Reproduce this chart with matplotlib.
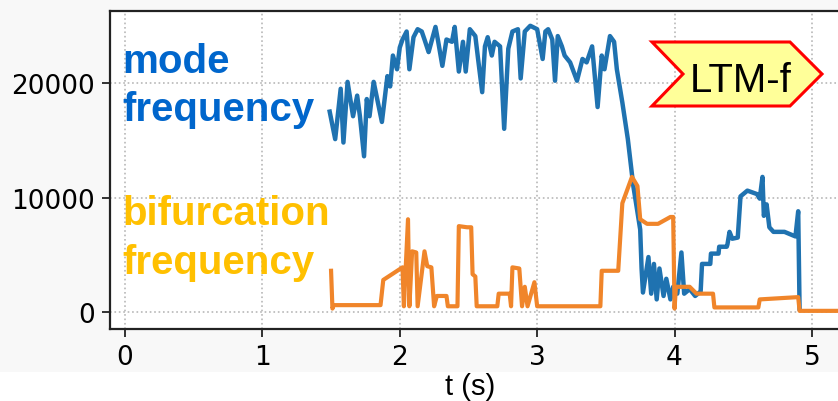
import matplotlib.pyplot as plt
from matplotlib.patches import Polygon

# mode frequency trace (Hz) vs time (s)
mode_t = [1.49, 1.53, 1.57, 1.59, 1.62, 1.66, 1.69, 1.71, 1.74, 1.76, 1.78, 1.81,
          1.87, 1.91, 1.93, 1.95, 1.98, 2.00, 2.02, 2.05, 2.07, 2.10, 2.13, 2.16,
          2.18, 2.21, 2.26, 2.28, 2.31, 2.34, 2.38, 2.40, 2.43, 2.46, 2.48, 2.51,
          2.55, 2.57, 2.60, 2.62, 2.64, 2.67, 2.69, 2.73, 2.76, 2.79, 2.82, 2.86,
          2.88, 2.91, 2.95, 3.00, 3.04, 3.06, 3.08, 3.11, 3.13, 3.15, 3.18, 3.20,
          3.24, 3.29, 3.33, 3.36, 3.40, 3.44, 3.47, 3.49, 3.53, 3.56, 3.58, 3.62,
          3.66, 3.70, 3.75, 3.76, 3.77, 3.81, 3.83, 3.85, 3.87, 3.89, 3.92, 3.94,
          3.97, 3.99, 4.02, 4.05, 4.07, 4.11, 4.15, 4.19, 4.20, 4.26, 4.265, 4.32,
          4.325, 4.38, 4.385, 4.40, 4.42, 4.46, 4.48, 4.53, 4.60, 4.62, 4.64, 4.65,
          4.67, 4.69, 4.72, 4.80, 4.88, 4.90, 4.91]
mode_f = [17500, 15100, 19500, 14800, 20100, 17100, 18900, 17100, 13600, 18600, 17100, 20100,
          16600, 20600, 19700, 22400, 21200, 23100, 23800, 24500, 21200, 24000, 24700, 24500,
          23800, 22700, 24900, 23600, 21500, 23800, 23600, 24900, 21000, 23600, 21000, 24700,
          24100, 22100, 19200, 23200, 24000, 22400, 23600, 23200, 16000, 23000, 24500, 24700,
          20400, 24500, 25000, 24700, 22100, 24500, 24700, 23800, 20200, 24100, 23200, 22400,
          21800, 20200, 22100, 21800, 23200, 17900, 22400, 21200, 24100, 23600, 21200, 18300,
          15100, 11000, 7200, 3800, 1700, 4800, 1600, 4200, 1100, 3800, 1400, 2900,
          1100, 2200, 1600, 5200, 1600, 2000, 1400, 1800, 4200, 4200, 5100, 5100,
          5700, 5700, 5900, 7000, 6400, 6500, 10100, 10600, 10300, 9900, 11800, 8400,
          9400, 7400, 7000, 7000, 6600, 8800, 300]

# bifurcation frequency trace (Hz) vs time (s)
bif_t = [1.50, 1.51, 1.52, 1.86, 1.88, 2.02, 2.03, 2.06, 2.07, 2.09, 2.12, 2.13,
         2.18, 2.20, 2.23, 2.25, 2.27, 2.34, 2.35, 2.42, 2.43, 2.49, 2.52, 2.53,
         2.55, 2.56, 2.71, 2.72, 2.80, 2.81, 2.82, 2.87, 2.89, 2.91, 2.93, 2.98,
         3.00, 3.46, 3.47, 3.59, 3.62, 3.69, 3.73, 3.75, 3.80, 3.88, 3.97, 3.99,
         4.00, 4.01, 4.11, 4.16, 4.28, 4.29, 4.61, 4.62, 4.90, 4.91, 5.30]
bif_f = [3600, 300, 600, 600, 2800, 3900, 500, 8100, 500, 5300, 5200, 500,
         5300, 4000, 3900, 500, 1400, 1400, 500, 500, 7500, 7400, 7400, 3300,
         3100, 500, 500, 1600, 1600, 500, 3900, 3800, 500, 2200, 500, 2600,
         500, 500, 3600, 3600, 9500, 11800, 11000, 8100, 7700, 7700, 8300, 8300,
         300, 2200, 2200, 1600, 1600, 400, 400, 1100, 1300, 100, 100]

x_ticks = [0, 1, 2, 3, 4, 5]
y_ticks = [0, 10000, 20000]

W, H = 838, 402
fig = plt.figure(figsize=(W / 100, H / 100), dpi=100)
fig.patch.set_facecolor('white')
# light grey backdrop behind the plot area
fig.add_artist(plt.Rectangle((0, (H - 373) / H), 1, 373 / H, transform=fig.transFigure,
                             facecolor='#f8f8f8', edgecolor='none', zorder=-10))

ax = fig.add_axes([110 / W, (H - 330) / H, 740 / W, 318 / H])
ax.set_facecolor('white')

ax.plot(mode_t, mode_f, color='#1f72b0', lw=3.2, solid_joinstyle='round')
ax.plot(bif_t, bif_f, color='#f0852a', lw=3.0, solid_joinstyle='round')

ax.set_xlim(-0.109, 5.277)
ax.set_ylim(-1485, 26290)
ax.set_xticks(x_ticks)
ax.set_yticks(y_ticks)
ax.tick_params(labelsize=19, length=6, width=1.3, pad=5, color='#222222')
ax.grid(True, linestyle=':', color='#b8b8b8', lw=1.2)
ax.spines['right'].set_visible(False)
for side in ['left', 'top', 'bottom']:
    ax.spines[side].set_linewidth(1.6)
    ax.spines[side].set_color('#222222')

# series labels
lab = dict(fontsize=29, fontweight='bold', family='Liberation Sans',
           transform=fig.transFigure, va='baseline', ha='left')
fig.text(122 / W, (H - 73) / H, 'mode', color='#0066cc', **lab)
fig.text(122 / W, (H - 121) / H, 'frequency', color='#0066cc', **lab)
fig.text(122 / W, (H - 225) / H, 'bifurcation', color='#ffc000', **lab)
fig.text(122 / W, (H - 274) / H, 'frequency', color='#ffc000', **lab)

# LTM-f tag
tag = [(652, 43), (790, 43), (822, 75), (790, 107), (652, 107), (683, 75)]
fig.add_artist(Polygon([(x / W, (H - y) / H) for x, y in tag], closed=True,
                       transform=fig.transFigure, facecolor='#ffff99',
                       edgecolor='#ff0000', lw=2.2))
fig.text(741 / W, (H - 92) / H, 'LTM-f', fontsize=29, family='Liberation Sans',
         color='black', ha='center', va='baseline')

fig.text(470 / W, (H - 395) / H, 't (s)', fontsize=21, family='Liberation Sans',
         color='black', ha='center', va='baseline')

fig.savefig('out.png', dpi=100)
